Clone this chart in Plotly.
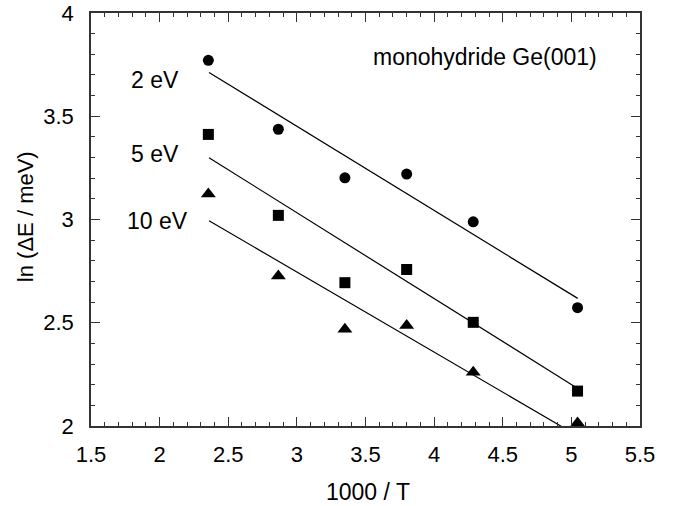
import plotly.graph_objects as go

# data
x_vals = [2.355, 2.865, 3.35, 3.80, 4.285, 5.045]
y_2ev = [3.771, 3.437, 3.202, 3.220, 2.989, 2.573]
y_5ev = [3.412, 3.020, 2.694, 2.758, 2.502, 2.169]
y_10ev = [3.123, 2.726, 2.468, 2.487, 2.260, 2.015]

fit_x = [2.36, 5.046]
fit_2ev = [3.712, 2.618]
fit_5ev = [3.299, 2.182]
fit_10ev = [2.994, 1.952]

series_labels = ["2 eV", "5 eV", "10 eV"]
label_x = [1.966, 1.966, 1.981]
label_y = [3.675, 3.317, 2.992]

x_ticks = [1.5, 2, 2.5, 3, 3.5, 4, 4.5, 5, 5.5]
y_ticks = [2, 2.5, 3, 3.5, 4]

FONT = "Liberation Sans, Arial, Helvetica, sans-serif"

fig = go.Figure()
for fy in [fit_2ev, fit_5ev, fit_10ev]:
    fig.add_trace(go.Scatter(x=fit_x, y=fy, mode="lines",
                             line=dict(color="black", width=1.2),
                             showlegend=False, hoverinfo="skip"))

for ys, sym, sz in [(y_2ev, "circle", 11), (y_5ev, "square", 11), (y_10ev, "triangle-up", 13)]:
    fig.add_trace(go.Scatter(x=x_vals, y=ys, mode="markers",
                             marker=dict(symbol=sym, size=sz, color="black"),
                             cliponaxis=False, showlegend=False))

for lab, lx, ly in zip(series_labels, label_x, label_y):
    fig.add_annotation(x=lx, y=ly, text=lab, showarrow=False,
                       font=dict(size=23, color="black", family=FONT))

fig.add_annotation(x=4.371, y=3.788, text="monohydride Ge(001)", showarrow=False,
                   font=dict(size=23, color="black", family=FONT))

# axis titles
fig.add_annotation(xref="paper", yref="paper", x=0.5046, y=-0.160, text="1000 / T",
                   xanchor="center", yanchor="middle",
                   showarrow=False, font=dict(size=23, color="black", family=FONT))
fig.add_annotation(xref="paper", yref="paper", x=-0.120, y=0.506, text="ln (ΔE / meV)",
                   xanchor="center", yanchor="middle",
                   textangle=-90, showarrow=False,
                   font=dict(size=22, color="black", family=FONT))

axis_common = dict(
    showgrid=False, zeroline=False, showline=True, linecolor="#333",
    linewidth=1.5, mirror="ticks", ticks="inside", ticklen=9, tickwidth=1.2,
    tickcolor="#333", tickfont=dict(size=22, color="black", family=FONT),
    automargin=False,
)

fig.update_xaxes(range=[1.5, 5.5], tickvals=x_ticks,
                 ticktext=[f"{v:g}" for v in x_ticks],
                 minor=dict(dtick=0.1, tick0=1.5, ticks="inside", ticklen=4,
                            tickwidth=1, tickcolor="#333"),
                 ticklabelstandoff=8,
                 **axis_common)
fig.update_yaxes(range=[2, 4], tickvals=y_ticks,
                 ticktext=[f"{v:g}" for v in y_ticks],
                 minor=dict(dtick=0.1, tick0=2, ticks="inside", ticklen=4,
                            tickwidth=1, tickcolor="#333"),
                 ticklabelstandoff=11,
                 **axis_common)

fig.update_layout(width=680, height=506, plot_bgcolor="white", paper_bgcolor="white",
                  margin=dict(l=91, r=40, t=13, b=80), showlegend=False)

fig.write_html("out.html")
